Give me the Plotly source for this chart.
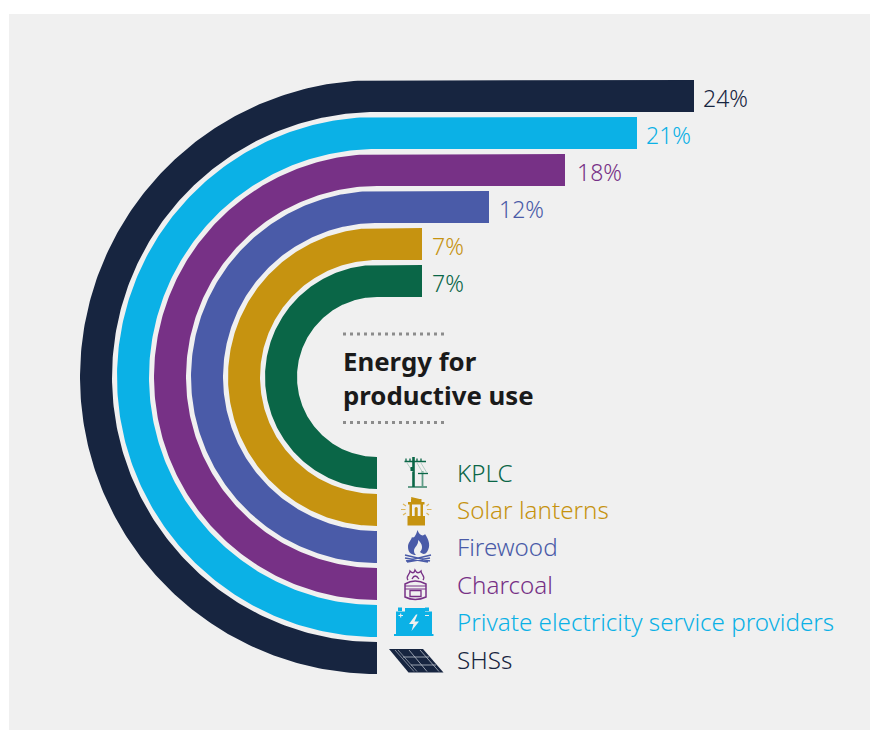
import numpy as np
import plotly.graph_objects as go

# Shares of households using each energy source for productive purposes
categories = ["SHSs", "Private electricity service providers", "Charcoal",
              "Firewood", "Solar lanterns", "KPLC"]
shares = [24, 21, 18, 12, 7, 7]
colors = ["#172540", "#0BB1E6", "#773186", "#4A5BA8", "#C69310", "#0A6647"]

# Nonlinear length scale of the horizontal run: share (%) -> run length
SCALE_SHARE = [7, 12, 18, 21, 24]
SCALE_RUN = [45, 112, 188, 260, 317]

WIDTH, HEIGHT = 870, 730
CX, CY = 377, 377
OUTER_RADIUS, BAND, PITCH = 297, 32, 37
FONT = "Noto Sans"
BG = "#F0F0F0"
LABEL_Y_NUDGE = [2, 1, 1, 0, 0, 0]
VALUE_X_NUDGE = [0, 0, 3, 1, 1, 1]

fig = go.Figure()


def racetrack(run, r_out, r_in):
    """Half ring opening to the right, with the top arm extended by `run`."""
    t = np.linspace(np.pi / 2, 3 * np.pi / 2, 240)
    x = np.r_[CX + run, CX + r_out * np.cos(t), CX + r_in * np.cos(t[::-1]), CX + run, CX + run]
    y = np.r_[CY - r_out, CY - r_out * np.sin(t), CY - r_in * np.sin(t[::-1]), CY - r_in, CY - r_out]
    return x, y


for i, (name, share, color) in enumerate(zip(categories, shares, colors)):
    r_out = OUTER_RADIUS - i * PITCH
    run = float(np.interp(share, SCALE_SHARE, SCALE_RUN))
    x, y = racetrack(run, r_out, r_out - BAND)
    fig.add_trace(go.Scatter(x=x, y=y, mode="lines", fill="toself", fillcolor=color,
                             line=dict(width=0, color=color), name=name,
                             hoverinfo="name", showlegend=False))
    # Value label just past the end of the arm
    fig.add_annotation(x=CX + run + 7 + VALUE_X_NUDGE[i], y=CY - r_out + 18, text=f"{share}%",
                       showarrow=False, xanchor="left", yanchor="middle",
                       font=dict(family=FONT, size=23, color=color, weight=300))
    # Category label beside the end of the lower arm
    fig.add_annotation(x=455, y=CY + r_out - BAND / 2 - 0.5 + LABEL_Y_NUDGE[i], text=name,
                       showarrow=False, xanchor="left", yanchor="middle",
                       font=dict(family=FONT, size=24.2, color=color, weight=300))

# Centre caption and its dotted rules
fig.add_annotation(x=341, y=377.5, text="<b>Energy for<br>productive use</b>", showarrow=False,
                   xanchor="left", yanchor="middle", align="left",
                   font=dict(family=FONT, size=25.8, color="#1A1A1A"))

shapes = []
for y_rule in (334, 422.5):
    shapes.append(dict(type="line", x0=343, x1=446, y0=y_rule, y1=y_rule,
                       line=dict(color="#8C8C8C", width=3, dash="3px,4px")))


def filled(path, color):
    shapes.append(dict(type="path", path=path, fillcolor=color, line=dict(width=0), layer="above"))


def stroke(path, color, width=1.0):
    shapes.append(dict(type="path", path=path, line=dict(color=color, width=width), layer="above"))


# Utility poles
GREEN = colors[5]
stroke("M413.5 457 L413.5 487", GREEN, 2.6)
stroke("M408 487 L427 487", GREEN, 1.2)
stroke("M404.5 461.5 L426 461.5", GREEN, 1.5)
stroke("M406 458.5 L406 461 M410 458.5 L410 461 M417 458.5 L417 461 M421 458.5 L421 461", GREEN, 1.3)
stroke("M422.5 471 L422.5 487", "#5E9C86", 1.8)
stroke("M418 473.5 L428 473.5", GREEN, 1.3)
stroke("M407 463 L413 472 M417 463 L423 473 M421 463 L427 473", "#A9CBBE", 0.9)
filled("M410.5 467 L413.5 467 L413.5 471 L410.5 471 Z", GREEN)

# Lantern
GOLD = colors[4]
filled("M407.5 516 L425 516 L425 525.5 L407.5 525.5 Z", GOLD)
filled("M408 502 L424.5 502 L424.5 504.5 L408 504.5 Z", GOLD)
filled("M409.5 504 L412 504 L412 516 L409.5 516 Z M420.5 504 L423 504 L423 516 L420.5 516 Z "
       "M414.7 508 Q416.2 506 417.7 508 L417.7 516 L414.7 516 Z", GOLD)
stroke("M412 500 L412 498 A4.2 4.2 0 0 1 420.4 498 L420.4 500", GOLD, 1.6)
filled("M411 499 L421.5 499 L421.5 502 L411 502 Z", GOLD)
stroke("M403 504 L406 506 M401 509.5 L405.5 509.5 M403 515 L406 513 M429 504 L426.5 506 "
       "M431.5 509.5 L427 509.5 M429 515 L426.5 513", "#DDB65A", 1.2)

# Campfire
BLUE = colors[3]
filled("M417.5 530 C419 535 423 537 425 534 C429 540 431 546 427 552 C425 555 422 554 420 552 "
       "C423 549 423 544 418 540 C419 545 414 547 414 551 C414 553 415 554 416 555 "
       "C412 555 408 553 408 547 C408 542 411 541 412 537 C414 539 416 535 417.5 530 Z", BLUE)
stroke("M405 555 L430 561 M405 558 L428 562 M431 555 L406 561 M430 558 L407 562", BLUE, 1.7)

# Charcoal stove
PURPLE = colors[2]
stroke("M405 584 Q415 578 426 584 L426 597 Q415 602 405 597 Z", PURPLE, 1.5)
stroke("M405 586 L426 586 M405 589 L426 589", PURPLE, 1.2)
stroke("M410 590.5 L421 590.5 L421 596.5 L410 596.5 Z", PURPLE, 1.3)
stroke("M408 580 C405 576 410 575 410 571 C412 573 414 574 415 570 C417 574 419 573 421 571 "
       "C421 575 426 576 423 580 M412 579 Q415 573 419 579", PURPLE, 1.3)

# Battery
CYAN = colors[1]
filled("M398 607.5 L402 607.5 L402 611 L398 611 Z M425 607.5 L429 607.5 L429 611 L425 611 Z", CYAN)
filled("M396 611.5 L405 611.5 L405 608 L425 608 L425 611.5 L432 611.5 L432 634 L433.5 634 "
       "L433.5 636 L394 636 L394 634 L396 634 Z", CYAN)
filled("M416 614.5 L409 624 L413.5 624 L411.5 631 L419 621.5 L414.5 621.5 L417.5 614.5 Z", BG)
stroke("M398.5 615.5 L403 615.5 M400.7 613.5 L400.7 617.5 M425 615.5 L429 615.5", BG, 1.1)

# Solar panel
NAVY = colors[0]
filled("M389 649 L423 649 L443.5 672.5 L408.5 672.5 Z", NAVY)
stroke("M395 650 L414 671.5 M398 650 L417 671.5", "#C4C9D2", 0.6)
stroke("M409 650 L427 671.5 M420 650 L439 671.5", "#B8BEC9", 0.8)
stroke("M403 657 L429 657 M411 665 L436 665", "#B8BEC9", 0.8)

fig.update_layout(
    width=WIDTH, height=HEIGHT, margin=dict(l=0, r=0, t=0, b=0),
    paper_bgcolor="white", plot_bgcolor="white", showlegend=False, shapes=shapes,
    xaxis=dict(range=[0, WIDTH], visible=False, fixedrange=True),
    yaxis=dict(range=[HEIGHT, 0], visible=False, fixedrange=True),
)
fig.add_shape(type="rect", x0=9, x1=WIDTH, y0=14, y1=HEIGHT, fillcolor=BG, line_width=0, layer="below")

fig.write_html("out.html", config={"displayModeBar": False})
